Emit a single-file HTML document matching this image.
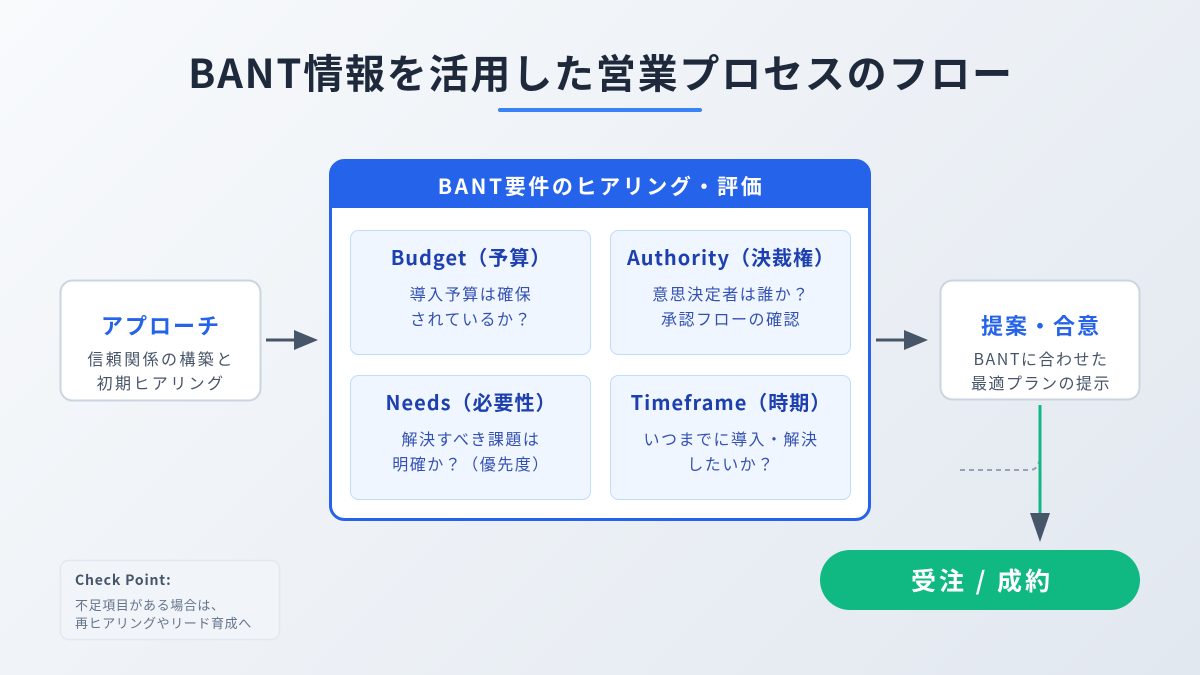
<!DOCTYPE html>
<html><head><meta charset="utf-8"><style>
html,body{margin:0;padding:0;width:1200px;height:675px;overflow:hidden}
body{background:linear-gradient(135deg,#f8fafc 0%,#e2e8f0 100%);font-family:"Liberation Sans","Noto Sans CJK JP",sans-serif}
svg text{font-family:"Noto Sans CJK JP","Liberation Sans",sans-serif}
</style></head><body>
<svg width="1200" height="675" viewBox="0 0 1200 675" xmlns="http://www.w3.org/2000/svg">
<text x="601" y="88" text-anchor="middle" font-size="40" font-weight="700" fill="#1e293b" letter-spacing="1.8">BANT情報を活用した営業プロセスのフロー</text>
<rect x="498" y="108" width="204" height="4" rx="2" fill="#3b82f6"/>

<rect x="60.5" y="280.5" width="200" height="120" rx="12" fill="#fff" stroke="#cbd5e1" stroke-width="2"/>
<text x="161" y="334" text-anchor="middle" font-size="22" font-weight="700" fill="#2563eb" letter-spacing="2">アプローチ</text>
<text x="161" y="365" text-anchor="middle" font-size="16" fill="#475569" letter-spacing="2.4">信頼関係の構築と</text>
<text x="161" y="389" text-anchor="middle" font-size="16" fill="#475569" letter-spacing="2.4">初期ヒアリング</text>

<line x1="266" y1="340" x2="296" y2="340" stroke="#475569" stroke-width="3"/>
<path d="M294,330 L318,340 L294,350 Z" fill="#475569"/>

<rect x="330.5" y="160.5" width="539" height="359" rx="14" fill="#fff" stroke="#2563eb" stroke-width="3"/>
<path d="M330,174 a14,14 0 0 1 14,-14 h512 a14,14 0 0 1 14,14 v34 h-540 Z" fill="#2563eb"/>
<text x="601" y="194" text-anchor="middle" font-size="21" font-weight="700" fill="#fff" letter-spacing="2.6">BANT要件のヒアリング・評価</text>

<g font-size="16" text-anchor="middle" letter-spacing="1.5">
<rect x="350.5" y="230.5" width="240" height="124" rx="8" fill="#eff6ff" stroke="#bfdbfe"/>
<text x="471" y="265" font-size="20" font-weight="700" fill="#1e40af" letter-spacing="1">Budget（予算）</text>
<text x="471" y="300" fill="#3451b2">導入予算は確保</text>
<text x="471" y="325" fill="#3451b2">されているか？</text>

<rect x="610.5" y="230.5" width="240" height="124" rx="8" fill="#eff6ff" stroke="#bfdbfe"/>
<text x="731" y="265" font-size="20" font-weight="700" fill="#1e40af" letter-spacing="1">Authority（決裁権）</text>
<text x="731" y="300" fill="#3451b2">意思決定者は誰か？</text>
<text x="731" y="325" fill="#3451b2">承認フローの確認</text>

<rect x="350.5" y="375.5" width="240" height="124" rx="8" fill="#eff6ff" stroke="#bfdbfe"/>
<text x="471" y="410" font-size="20" font-weight="700" fill="#1e40af" letter-spacing="1">Needs（必要性）</text>
<text x="471" y="445" fill="#3451b2">解決すべき課題は</text>
<text x="471" y="470" fill="#3451b2">明確か？（優先度）</text>

<rect x="610.5" y="375.5" width="240" height="124" rx="8" fill="#eff6ff" stroke="#bfdbfe"/>
<text x="731" y="410" font-size="20" font-weight="700" fill="#1e40af" letter-spacing="1">Timeframe（時期）</text>
<text x="731" y="445" fill="#3451b2">いつまでに導入・解決</text>
<text x="731" y="470" fill="#3451b2">したいか？</text>
</g>

<line x1="876" y1="340" x2="906" y2="340" stroke="#475569" stroke-width="3"/>
<path d="M904,330 L928,340 L904,350 Z" fill="#475569"/>

<rect x="940.5" y="280.5" width="199" height="119" rx="12" fill="#fff" stroke="#cbd5e1" stroke-width="2"/>
<text x="1041" y="334" text-anchor="middle" font-size="22" font-weight="700" fill="#2563eb" letter-spacing="2">提案・合意</text>
<text x="1041" y="365" text-anchor="middle" font-size="16" fill="#475569" letter-spacing="1.5">BANTに合わせた</text>
<text x="1041" y="389" text-anchor="middle" font-size="16" fill="#475569" letter-spacing="1.5">最適プランの提示</text>

<path d="M960,470 H1030 Q1038,470 1040,458" fill="none" stroke="#94a3b8" stroke-width="2" stroke-dasharray="5,4"/>
<line x1="1040" y1="405" x2="1040" y2="515" stroke="#10b981" stroke-width="3"/>
<path d="M1030,513 L1050,513 L1040,542 Z" fill="#475569"/>

<rect x="820" y="550" width="320" height="60" rx="30" fill="#10b981"/>
<text x="982" y="590" text-anchor="middle" font-size="25" font-weight="700" fill="#fff" letter-spacing="3">受注 / 成約</text>

<rect x="60.5" y="560.5" width="219" height="79" rx="8" fill="#f1f5f9" stroke="#e2e8f0" stroke-width="1.5"/>
<text x="75" y="585" font-size="14" font-weight="700" fill="#475569" letter-spacing="0.8">Check Point:</text>
<text x="75" y="610" font-size="13" fill="#64748b" letter-spacing="0.6">不足項目がある場合は、</text>
<text x="75" y="628" font-size="13" fill="#64748b" letter-spacing="0.6">再ヒアリングやリード育成へ</text>
</svg>
</body></html>
